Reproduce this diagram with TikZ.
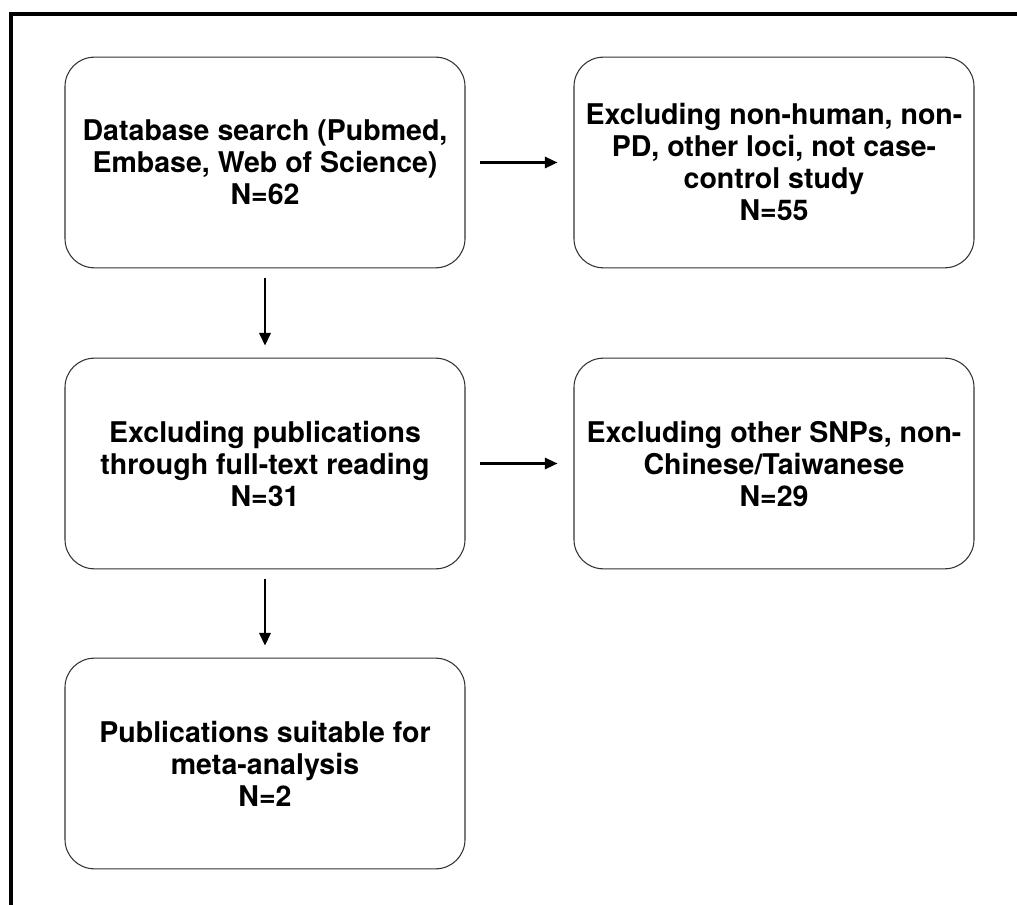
\documentclass[tikz,border=0pt]{standalone}
\usepackage{fontspec}
\setmainfont{TeX Gyre Heros}
\usetikzlibrary{arrows.meta}
\begin{document}
\begin{tikzpicture}
[x=0.75pt,y=-0.75pt,
box/.style={rectangle,rounded corners=22pt,draw=black!80,line width=0.8pt,minimum width=300pt,minimum height=158pt,align=center,font=\fontsize{21.4}{24}\selectfont\bfseries},
flow/.style={-{Triangle[length=9.5pt,width=8.5pt]},line width=1.7pt}
]
\useasboundingbox (0,0) rectangle (1017,905);
\draw[line width=2.8pt] (11,905) -- (11,14) -- (1017,14);

\node[box] (db) at (265,162.5){Database search (Pubmed,\\Embase, Web of Science)\\N=62};
\node[box] (nonhuman) at (774,162.5){Excluding non-human, non-\\PD, other loci, not case-\\control study\\N=55};
\node[box] (fulltext) at (265,463.5){Excluding publications\\through full-text reading\\N=31};
\node[box] (snps) at (774,463.5){Excluding other SNPs, non-\\Chinese/Taiwanese\\N=29};
\node[box] (meta) at (265,763.5){Publications suitable for\\meta-analysis\\N=2};

\draw[flow,shorten <=10.5pt,shorten >=12pt] (db) -- (nonhuman);
\draw[flow,shorten <=10.5pt,shorten >=12pt] (fulltext) -- (snps);
\draw[flow,shorten <=7.5pt,shorten >=9pt] (db) -- (fulltext);
\draw[flow,shorten <=7.5pt,shorten >=9pt] (fulltext) -- (meta);
\end{tikzpicture}
\end{document}
